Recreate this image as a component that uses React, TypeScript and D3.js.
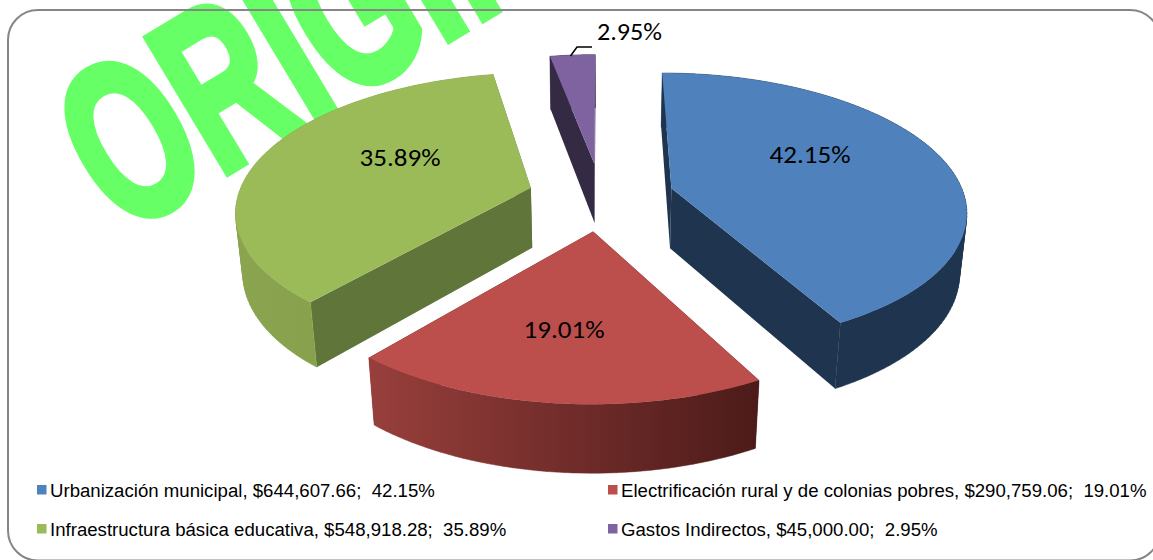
import React from "react";
import * as d3 from "d3";

const categories = ["Urbanización municipal", "Electrificación rural y de colonias pobres", "Infraestructura básica educativa", "Gastos Indirectos"];
const amounts = [644607.66, 290759.06, 548918.28, 45000.0];
const percents = ["42.15%", "19.01%", "35.89%", "2.95%"];
const topColors = ["#4f81bd", "#bc4f4c", "#9bbb59", "#7f62a0"];
const wallColors = ["#1f344f", "#4c1b19", "#60753a", "#352a44"];
const wallGradients = [["#1f344f", "#1f344f"], ["#983f3c", "#4c1b19"], ["#8aa44f", "#7f9a47"], ["#352a44", "#352a44"]];
const moneyFormat = d3.format(",.2f");

const W = 1153, H = 560;
const proj = { cx: 601, cy: 196.5, rx: 293, ry: 135, k: 0.151, depth: 61.5, m: 0.02, explode: 0.25 };

function project(X: number, Y: number, z: number): [number, number] {
  const w = 1 + proj.k * Y + proj.m * z;
  return [proj.cx + (proj.rx * X) / w, proj.cy + (-proj.ry * Y + proj.depth * z) / w];
}

const pie = d3.pie<number>().sort(null).startAngle(0).endAngle(2 * Math.PI);
const arcs = pie(amounts);

const labelPos: [number, number][] = [[810, 154], [564, 329], [400, 157], [629.5, 31]];
const labelWidth = [81, 81, 81, 65];
const legendPos: [number, number][] = [[37, 490], [608, 490], [37, 529], [608, 529]];

const line = d3.line<[number, number]>();

function Slice({ i }: { i: number }) {
  const a = arcs[i];
  const mid = (a.startAngle + a.endAngle) / 2;
  const ox = proj.explode * Math.sin(mid), oy = proj.explode * Math.cos(mid);
  const n = Math.max(8, Math.ceil((a.endAngle - a.startAngle) * 40));
  const thetas = d3.range(n + 1).map((t) => a.startAngle + ((a.endAngle - a.startAngle) * t) / n);
  const rim = (z: number) => thetas.map((t) => project(ox + Math.sin(t), oy + Math.cos(t), z));
  const apex = (z: number) => project(ox, oy, z);
  const top = rim(0), bot = rim(1);
  const wallStart = [apex(0), top[0], bot[0], apex(1)] as [number, number][];
  const wallEnd = [apex(0), top[n], bot[n], apex(1)] as [number, number][];
  const xs = [...top, ...bot].map((p) => p[0]);
  const x0 = d3.min(xs)!, x1 = d3.max(xs)!;
  const outer = d3.range(n).map((t) => {
    const q = [top[t], top[t + 1], bot[t + 1], bot[t]] as [number, number][];
    return line(d3.polygonArea(q) < 0 ? [...q].reverse() : q)! + "Z";
  }).join("");
  return (
    <g>
      <defs>
        <linearGradient id={`wall${i}`} gradientUnits="userSpaceOnUse" x1={x0} x2={x1} y1={0} y2={0}>
          <stop offset="0" stopColor={wallGradients[i][0]} />
          <stop offset="1" stopColor={wallGradients[i][1]} />
        </linearGradient>
      </defs>
      <path d={line(wallStart)! + "Z"} fill={wallColors[i]} />
      <path d={line(wallEnd)! + "Z"} fill={wallColors[i]} />
      <path d={outer} fillRule="nonzero" fill={`url(#wall${i})`} stroke={`url(#wall${i})`} strokeWidth={0.5} />
      <path d={line([apex(0), ...top])! + "Z"} fill={topColors[i]} />
    </g>
  );
}

export default function App() {
  const font = "'Liberation Sans', Arial, sans-serif";
  return (
    <svg width={W} height={H} style={{ position: "absolute", left: 0, top: 0, background: "#fff" }}>
      <text transform="translate(122,236) rotate(-31) scale(0.636,1)" fontFamily={font} fontWeight="bold" fontSize={228} fill="#66ff66" stroke="#66ff66" strokeWidth={8}>ORIGINAL</text>
      <rect x={8} y={10} width={1152} height={550.5} rx={30} ry={30} fill="none" stroke="#868686" strokeWidth={2} />
      {[3, 0, 2, 1].map((i) => <Slice key={i} i={i} />)}
      <path d="M570.5,56L577,47L592,47" fill="none" stroke="#000" strokeWidth={1.5} />
      {percents.map((p, i) => (
        <text key={i} x={labelPos[i][0]} y={labelPos[i][1]} dy="0.36em" textAnchor="middle" textLength={labelWidth[i]} lengthAdjust="spacingAndGlyphs" fontFamily="Carlito, Lato, sans-serif" fontSize={24} fill="#000">{p}</text>
      ))}
      {categories.map((c, i) => (
        <g key={i}>
          <rect x={legendPos[i][0]} y={legendPos[i][1] - 5} width={9.5} height={9.5} fill={topColors[i]} />
          <text x={legendPos[i][0] + 13} y={legendPos[i][1]} dy="0.36em" fontFamily={font} fontSize={18.62} fill="#000" style={{ whiteSpace: "pre" }}>
            {`${c}, $${moneyFormat(amounts[i])};  ${percents[i]}`}
          </text>
        </g>
      ))}
    </svg>
  );
}
